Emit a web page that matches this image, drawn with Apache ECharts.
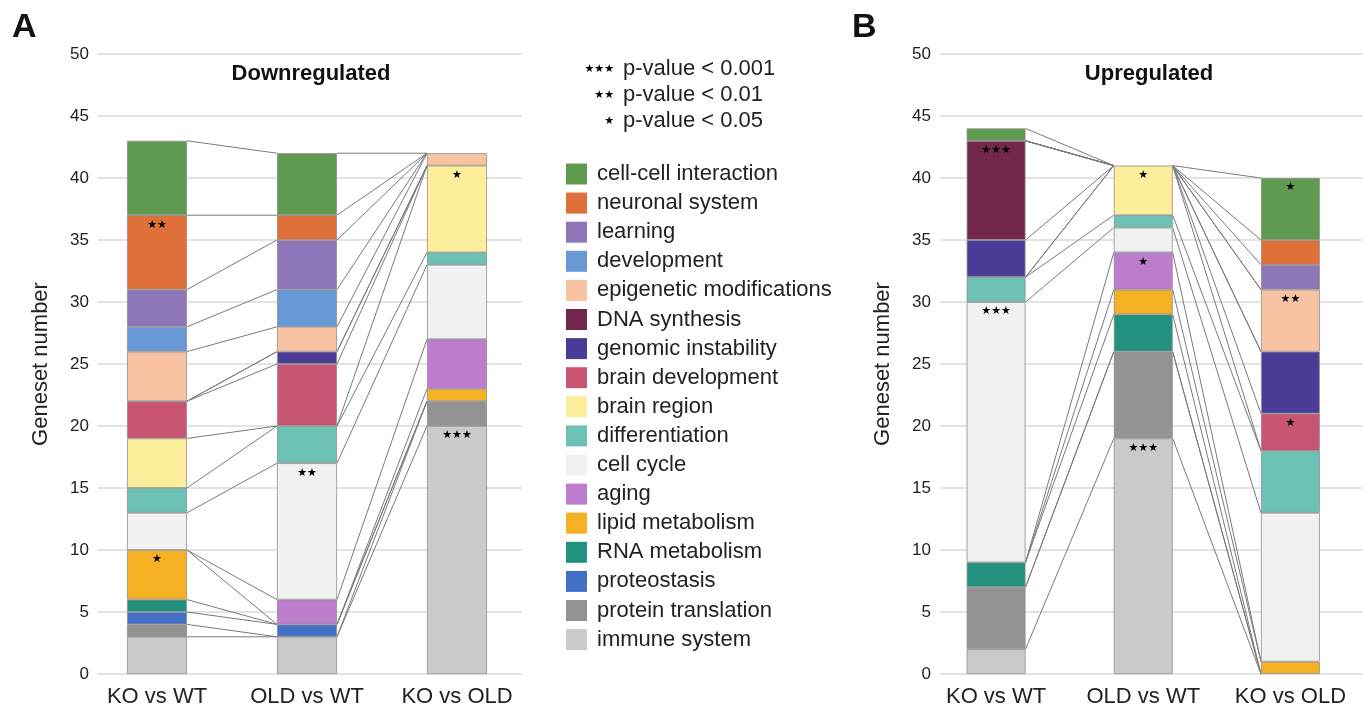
<!DOCTYPE html>
<html>
<head>
<meta charset="utf-8">
<script src="https://cdn.jsdelivr.net/npm/echarts@6/dist/echarts.min.js"></script>
<style>html,body{margin:0;padding:0;background:#fff}#c{width:1364px;height:708px}</style>
</head>
<body>
<div id="c"></div>
<script>
// ---- data ----
const categories = ['KO vs WT', 'OLD vs WT', 'KO vs OLD'];
// stack order, bottom -> top
const groupNames = ['immune system', 'protein translation', 'proteostasis', 'RNA metabolism', 'lipid metabolism', 'aging', 'cell cycle', 'differentiation', 'brain region', 'brain development', 'genomic instability', 'DNA synthesis', 'epigenetic modifications', 'development', 'learning', 'neuronal system', 'cell-cell interaction'];
const groupColors = ['#cacaca', '#939393', '#4170c6', '#22917e', '#f6b024', '#bd7ccd', '#f1f1f1', '#6ec1b5', '#fdee9b', '#c95574', '#4b3c97', '#72264a', '#f8c3a2', '#6897d5', '#8d77b8', '#e0703a', '#5f9a50'];
const yTicks = [0, 50, 5];

// Downregulated (panel A), values in stack order
const downKOvsWT  = [3, 1, 1, 1, 4, 0, 3, 2, 4, 3, 0, 0, 4, 2, 3, 6, 6];
const downOLDvsWT = [3, 0, 1, 0, 0, 2, 11, 3, 0, 5, 1, 0, 2, 3, 4, 2, 5];
const downKOvsOLD = [20, 2, 0, 0, 1, 4, 6, 1, 7, 0, 0, 0, 1, 0, 0, 0, 0];
// Upregulated (panel B)
const upKOvsWT  = [2, 5, 0, 2, 0, 0, 21, 2, 0, 0, 3, 8, 0, 0, 0, 0, 1];
const upOLDvsWT = [19, 7, 0, 3, 2, 3, 2, 1, 4, 0, 0, 0, 0, 0, 0, 0, 0];
const upKOvsOLD = [0, 0, 0, 0, 1, 0, 12, 5, 0, 3, 5, 0, 5, 0, 2, 2, 5];

// significance marks: [bar index, group, mark]
const sigDown = [[0, 'neuronal system', '**'], [0, 'lipid metabolism', '*'], [1, 'cell cycle', '**'], [2, 'brain region', '*'], [2, 'immune system', '***']];
const sigUp = [[0, 'DNA synthesis', '***'], [0, 'cell cycle', '***'], [1, 'brain region', '*'], [1, 'aging', '*'], [1, 'immune system', '***'], [2, 'cell-cell interaction', '*'], [2, 'epigenetic modifications', '**'], [2, 'brain development', '*']];

const sigLegend = [['***', 'p-value < 0.001'], ['**', 'p-value < 0.01'], ['*', 'p-value < 0.05']];

// ---- build ----
const FONT = '"Liberation Sans", Arial, Helvetica, sans-serif';
const TXT = '#222';
const BAR_FRAC = 0.4;

function stars(m) { return m.replace(/\*/g, '\u2605'); }

function panelSeries(bars, sigs, xIdx, yIdx, tag) {
  const out = [];
  groupNames.forEach((g, k) => {
    const data = bars.map((arr, b) => {
      const v = arr[k];
      if (!v) return '-';
      const s = sigs.find(e => e[0] === b && e[1] === g);
      if (s) {
        return { value: v, label: { show: true, formatter: stars(s[2]) } };
      }
      return v;
    });
    out.push({
      name: g, type: 'bar', stack: tag, xAxisIndex: xIdx, yAxisIndex: yIdx,
      barWidth: (BAR_FRAC * 100) + '%', z: 3,
      itemStyle: { color: groupColors[k], borderColor: '#8f8f8f', borderWidth: 0.8 },
      label: { show: false, position: 'insideTop', distance: 4, fontFamily: '"DejaVu Sans", sans-serif', fontSize: 11, color: '#000' },
      emphasis: { disabled: true },
      data: data
    });
  });
  // connectors: tops of each group between adjacent bars
  const cum = bars.map(arr => { let s = 0; return arr.map(v => (s += v)); });
  const lines = [];
  for (let b = 0; b < bars.length - 1; b++) {
    groupNames.forEach((g, k) => lines.push([b, cum[b][k], cum[b + 1][k]]));
  }
  out.push({
    name: 'conn-' + tag, type: 'custom', xAxisIndex: xIdx, yAxisIndex: yIdx, z: 1,
    silent: true,
    renderItem: function (params, api) {
      const b = api.value(0);
      const p1 = api.coord([b, api.value(1)]);
      const p2 = api.coord([b + 1, api.value(2)]);
      const hw = api.size([1, 0])[0] * BAR_FRAC / 2;
      return { type: 'line', shape: { x1: p1[0] + hw, y1: p1[1], x2: p2[0] - hw, y2: p2[1] }, style: { stroke: '#7a7a7a', lineWidth: 1 } };
    },
    data: lines
  });
  return out;
}

const gridTop = 54, gridH = 620;
const option = {
  animation: false,
  textStyle: { fontFamily: FONT },
  grid: [
    { left: 98, width: 424, top: gridTop, height: gridH },     // A gridlines
    { left: 82, width: 450, top: gridTop, height: gridH },     // A bars
    { left: 940, width: 422, top: gridTop, height: gridH },    // B gridlines
    { left: 922.5, width: 451.5, top: gridTop, height: gridH } // B bars
  ],
  xAxis: [
    { type: 'category', gridIndex: 0, data: [''], show: false },
    { type: 'category', gridIndex: 1, data: categories, axisLine: { show: false }, axisTick: { show: false },
      axisLabel: { fontSize: 22, color: TXT, margin: 12, interval: 0, fontFamily: FONT } },
    { type: 'category', gridIndex: 2, data: [''], show: false },
    { type: 'category', gridIndex: 3, data: categories, axisLine: { show: false }, axisTick: { show: false },
      axisLabel: { fontSize: 22, color: TXT, margin: 12, interval: 0, fontFamily: FONT } }
  ],
  yAxis: [0, 1, 2, 3].map(i => {
    const vis = (i % 2 === 0);
    return {
      type: 'value', gridIndex: i, min: yTicks[0], max: yTicks[1], interval: yTicks[2],
      show: vis,
      name: vis ? 'Geneset number' : '', nameLocation: 'middle', nameGap: 46,
      nameTextStyle: { fontSize: 22, color: TXT, fontFamily: FONT },
      axisLine: { show: false }, axisTick: { show: false },
      axisLabel: { fontSize: 17, color: TXT, margin: 9, fontFamily: FONT },
      splitLine: { show: vis, lineStyle: { color: '#dadada', width: 1.5 } }
    };
  }),
  legend: {
    orient: 'vertical', left: 561, top: 158,
    itemWidth: 21, itemHeight: 21, itemGap: 7.1, icon: 'rect',
    selectedMode: false,
    itemStyle: { borderWidth: 0 },
    textStyle: { fontSize: 22, color: TXT, fontFamily: FONT, lineHeight: 22, padding: [0, 0, 0, 5] },
    data: groupNames.slice().reverse()
  },
  graphic: [
    { type: 'text', x: 12, y: 11, style: { text: 'A', font: 'bold 34px ' + FONT, fill: '#111' } },
    { type: 'text', x: 852, y: 11, style: { text: 'B', font: 'bold 34px ' + FONT, fill: '#111' } },
    { type: 'text', x: 311, y: 74, style: { text: 'Downregulated', font: 'bold 22px ' + FONT, fill: '#111', textAlign: 'center', textVerticalAlign: 'middle' } },
    { type: 'text', x: 1149, y: 74, style: { text: 'Upregulated', font: 'bold 22px ' + FONT, fill: '#111', textAlign: 'center', textVerticalAlign: 'middle' } }
  ].concat(sigLegend.flatMap((r, i) => [
    { type: 'text', x: 614, y: 69 + i * 26, style: { text: stars(r[0]), font: '11px "DejaVu Sans", sans-serif', fill: '#000', textAlign: 'right', textVerticalAlign: 'middle' } },
    { type: 'text', x: 623, y: 69 + i * 26, style: { text: r[1], font: '22px ' + FONT, fill: TXT, textAlign: 'left', textVerticalAlign: 'middle' } }
  ])),
  series: [].concat(
    panelSeries([downKOvsWT, downOLDvsWT, downKOvsOLD], sigDown, 1, 1, 'down'),
    panelSeries([upKOvsWT, upOLDvsWT, upKOvsOLD], sigUp, 3, 3, 'up')
  )
};

const chart = echarts.init(document.getElementById('c'), null, { renderer: 'canvas' });
chart.setOption(option);
</script>
</body>
</html>
